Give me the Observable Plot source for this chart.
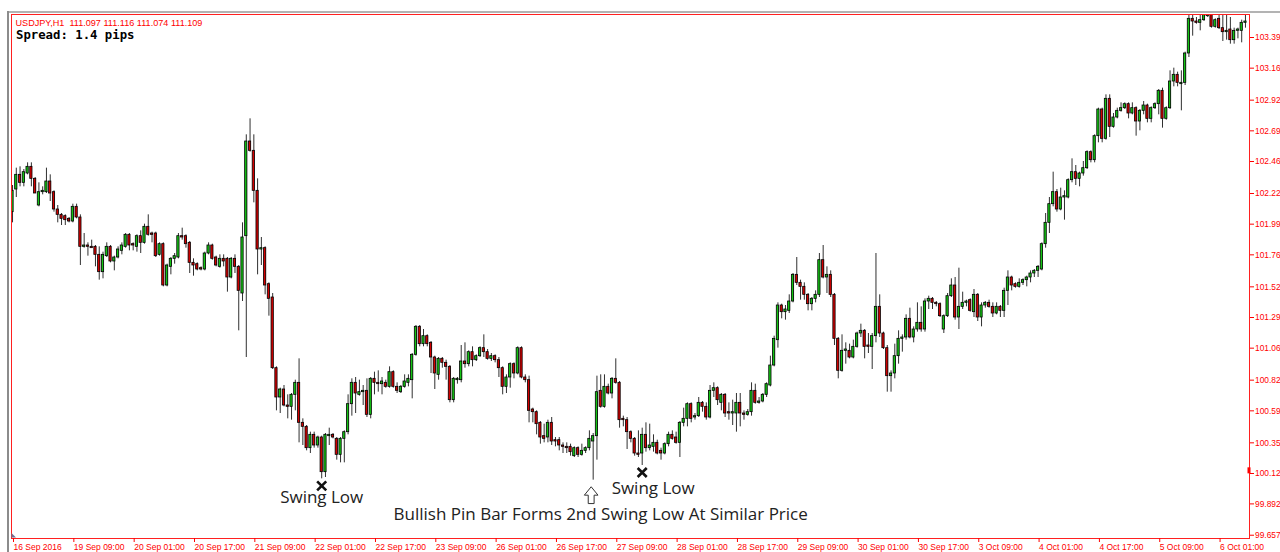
<!DOCTYPE html>
<html><head><meta charset="utf-8">
<script src="https://cdn.jsdelivr.net/npm/d3@7"></script>
<script src="https://cdn.jsdelivr.net/npm/@observablehq/plot@0.6"></script>
<style>
html,body{margin:0;padding:0;background:#fff;overflow:hidden}
#chart svg{display:block}
</style></head><body><div id="chart"></div>
<script>
// ---- data (USDJPY H1 candles) ----
const open=[
102.08,102.25,102.36,102.30,102.37,102.42,102.33,102.13,102.23,102.23,
102.31,102.23,102.10,102.06,102.05,102.03,102.01,102.12,102.04,101.82,
101.83,101.82,101.82,101.76,101.63,101.75,101.82,101.71,101.74,101.79,
101.82,101.91,101.84,101.82,101.90,101.85,101.97,101.92,101.92,101.76,
101.84,101.53,101.67,101.73,101.74,101.90,101.90,101.85,101.70,101.69,
101.66,101.65,101.77,101.83,101.74,101.67,101.73,101.73,101.59,101.73,
101.67,101.47,101.90,102.61,102.54,102.24,101.80,101.81,101.54,101.44,
100.91,100.69,100.75,100.63,100.62,100.71,100.80,100.50,100.47,100.31,
100.41,100.33,100.39,100.13,100.40,100.41,100.38,100.26,100.38,100.43,
100.64,100.80,100.71,100.73,100.74,100.56,100.83,100.80,100.79,100.80,
100.77,100.88,100.77,100.73,100.77,100.80,100.82,101.01,101.22,101.09,
101.15,101.10,100.99,100.86,100.98,100.95,100.92,100.67,100.82,100.82,
100.96,100.94,101.03,100.97,101.00,101.06,101.03,100.98,101.00,100.97,
100.91,100.77,100.84,100.94,100.87,101.06,100.84,100.82,100.60,100.58,
100.50,100.40,100.39,100.50,100.37,100.37,100.33,100.32,100.32,100.25,
100.31,100.26,100.29,100.31,100.36,100.40,100.74,100.62,100.77,100.72,
100.83,100.80,100.53,100.52,100.43,100.38,100.27,100.27,100.41,100.31,
100.32,100.35,100.29,100.27,100.34,100.41,100.39,100.35,100.50,100.53,
100.64,100.54,100.55,100.65,100.62,100.54,100.74,100.76,100.65,100.71,
100.58,100.57,100.57,100.65,100.57,100.56,100.58,100.74,100.65,100.66,
100.71,100.78,100.93,101.12,101.38,101.33,101.34,101.41,101.61,101.55,
101.52,101.46,101.39,101.43,101.46,101.72,101.59,101.61,101.46,101.13,
100.89,101.04,101.04,100.99,101.07,101.17,101.19,101.08,101.07,101.15,
101.37,101.17,101.06,100.85,100.87,101.00,101.13,101.14,101.28,101.14,
101.20,101.25,101.20,101.41,101.43,101.40,101.39,101.20,101.30,101.45,
101.53,101.29,101.37,101.40,101.42,101.33,101.46,101.29,101.38,101.40,
101.37,101.32,101.37,101.34,101.49,101.59,101.54,101.52,101.55,101.57,
101.59,101.62,101.64,101.65,101.84,102.00,102.14,102.23,102.10,102.19,
102.19,102.32,102.38,102.33,102.37,102.41,102.53,102.47,102.65,102.85,
102.63,102.93,102.72,102.79,102.84,102.86,102.89,102.82,102.86,102.76,
102.84,102.88,102.78,102.86,102.89,102.99,102.78,102.86,103.06,103.11,
103.04,103.05,103.27,103.53,103.51,103.50,103.52,103.55,103.56,103.47,
103.53,103.46,103.43,103.45,103.37,103.44,103.44,103.50];
const high=[
102.28,102.41,102.42,102.40,102.45,102.45,102.34,102.30,102.27,102.41,
102.36,102.24,102.13,102.07,102.06,102.04,102.14,102.14,102.06,101.92,
101.85,101.87,101.83,101.82,101.78,101.85,101.83,101.75,101.82,101.85,
101.92,101.92,101.85,101.91,101.94,101.99,102.06,101.93,101.93,101.85,
101.85,101.69,101.74,101.77,101.92,101.96,101.91,101.86,101.73,101.70,
101.67,101.78,101.85,101.84,101.75,101.76,101.76,101.74,101.74,101.76,
101.68,102.00,102.66,102.78,102.66,102.33,101.89,101.82,101.55,101.47,
100.92,100.76,100.78,100.71,100.72,100.82,100.98,100.53,100.48,100.43,
100.43,100.40,100.40,100.42,100.46,100.42,100.39,100.39,100.44,100.71,
100.83,100.84,100.82,100.78,100.83,100.84,100.88,100.89,100.84,100.82,
100.92,100.89,100.80,100.78,100.86,100.86,101.02,101.23,101.23,101.20,
101.16,101.11,101.00,100.99,100.99,100.97,100.93,100.84,100.84,101.08,
101.10,101.04,101.07,101.01,101.07,101.16,101.05,101.02,101.01,100.99,
100.92,100.86,100.95,100.95,101.07,101.07,100.86,100.85,100.61,100.59,
100.51,100.49,100.52,100.54,100.39,100.39,100.35,100.35,100.34,100.32,
100.32,100.34,100.32,100.44,100.42,100.85,100.86,100.86,100.79,100.84,
100.98,100.81,100.55,100.54,100.44,100.39,100.44,100.46,100.50,100.49,
100.41,100.37,100.31,100.35,100.43,100.44,100.43,100.51,100.61,100.65,
100.65,100.57,100.69,100.66,100.65,100.78,100.80,100.77,100.72,100.72,
100.65,100.67,100.72,100.72,100.59,100.60,100.80,100.79,100.69,100.72,
100.80,101.00,101.15,101.40,101.39,101.38,101.46,101.62,101.74,101.57,
101.55,101.47,101.44,101.49,101.77,101.83,101.67,101.64,101.47,101.14,
101.16,101.10,101.09,101.12,101.18,101.24,101.20,101.17,101.17,101.77,
101.46,101.18,101.08,100.89,101.09,101.19,101.16,101.31,101.36,101.22,
101.40,101.37,101.43,101.45,101.44,101.41,101.40,101.31,101.47,101.58,
101.59,101.66,101.48,101.42,101.43,101.50,101.47,101.40,101.41,101.42,
101.40,101.40,101.38,101.51,101.64,101.60,101.55,101.58,101.58,101.60,
101.64,101.65,101.68,101.85,102.07,102.19,102.38,102.25,102.26,102.24,
102.33,102.48,102.43,102.38,102.46,102.54,102.54,102.66,102.86,102.86,
102.96,102.96,102.82,102.86,102.90,102.90,102.90,102.90,102.87,102.85,
102.91,102.89,102.87,102.90,103.00,103.01,102.87,103.14,103.16,103.13,
103.14,103.28,103.56,103.56,103.54,103.56,103.57,103.57,103.57,103.53,
103.56,103.56,103.56,103.54,103.46,103.46,103.52,103.56];
const low=[
102.00,102.19,102.27,102.27,102.36,102.27,102.22,102.12,102.21,102.22,
102.16,102.08,102.00,101.98,101.98,102.00,102.00,102.03,101.68,101.81,
101.75,101.81,101.67,101.57,101.58,101.74,101.70,101.64,101.73,101.76,
101.81,101.79,101.79,101.78,101.77,101.84,101.90,101.85,101.74,101.75,
101.52,101.52,101.61,101.69,101.73,101.87,101.81,101.62,101.60,101.64,
101.64,101.64,101.76,101.72,101.67,101.66,101.67,101.48,101.58,101.62,
101.19,101.41,100.99,102.53,102.15,101.61,101.68,101.46,101.30,100.90,
100.59,100.57,100.62,100.53,100.52,100.59,100.35,100.33,100.29,100.27,
100.31,100.31,100.08,100.09,100.33,100.38,100.22,100.20,100.20,100.41,
100.55,100.57,100.70,100.63,100.54,100.53,100.71,100.73,100.71,100.76,
100.76,100.76,100.72,100.72,100.76,100.77,100.68,101.00,101.07,101.07,
101.07,100.87,100.75,100.82,100.91,100.82,100.65,100.65,100.79,100.80,
100.91,100.92,100.92,100.96,100.99,100.99,100.97,100.96,100.95,100.84,
100.71,100.72,100.76,100.83,100.86,100.83,100.80,100.50,100.50,100.41,
100.34,100.35,100.35,100.33,100.32,100.29,100.27,100.27,100.25,100.24,
100.24,100.25,100.27,100.29,100.07,100.22,100.61,100.61,100.71,100.68,
100.79,100.46,100.47,100.30,100.35,100.25,100.24,100.18,100.28,100.29,
100.28,100.26,100.22,100.26,100.32,100.37,100.34,100.24,100.47,100.47,
100.50,100.52,100.54,100.58,100.52,100.53,100.69,100.63,100.59,100.54,
100.52,100.48,100.43,100.47,100.52,100.55,100.55,100.64,100.64,100.65,
100.69,100.77,100.92,101.06,101.28,101.27,101.32,101.40,101.53,101.42,
101.42,101.34,101.34,101.40,101.44,101.58,101.47,101.44,101.08,100.83,
100.88,100.94,100.98,100.98,101.06,101.14,100.98,101.02,100.90,101.10,
101.14,101.05,100.73,100.73,100.83,100.94,101.03,101.12,101.13,101.10,
101.18,101.18,101.18,101.35,101.35,101.37,101.29,101.17,101.29,101.44,
101.27,101.20,101.35,101.37,101.33,101.29,101.26,101.22,101.36,101.36,
101.29,101.31,101.29,101.29,101.38,101.49,101.51,101.51,101.53,101.52,
101.55,101.59,101.59,101.64,101.81,101.92,102.12,102.08,102.09,102.02,
102.18,102.30,102.28,102.27,102.35,102.40,102.45,102.45,102.60,102.60,
102.62,102.64,102.71,102.78,102.83,102.85,102.78,102.81,102.65,102.69,
102.81,102.75,102.75,102.85,102.81,102.71,102.77,102.85,103.02,103.02,
102.84,103.03,103.24,103.40,103.49,103.44,103.51,103.54,103.46,103.46,
103.45,103.36,103.37,103.34,103.34,103.38,103.35,103.46];
const close=[
102.24,102.36,102.30,102.38,102.42,102.33,102.22,102.23,102.24,102.31,
102.22,102.10,102.06,102.03,102.02,102.01,102.12,102.04,101.82,101.83,
101.82,101.81,101.76,101.63,101.76,101.82,101.71,101.74,101.80,101.83,
101.91,101.83,101.83,101.90,101.85,101.97,101.91,101.91,101.75,101.84,
101.53,101.68,101.73,101.75,101.90,101.89,101.84,101.70,101.68,101.65,
101.65,101.77,101.83,101.73,101.68,101.73,101.71,101.59,101.73,101.67,
101.49,101.89,102.61,102.54,102.24,101.80,101.81,101.53,101.43,100.91,
100.69,100.75,100.63,100.62,100.71,100.80,100.50,100.47,100.31,100.41,
100.33,100.39,100.13,100.41,100.41,100.39,100.26,100.38,100.43,100.64,
100.80,100.72,100.73,100.74,100.56,100.83,100.80,100.79,100.81,100.77,
100.88,100.77,100.74,100.77,100.81,100.83,101.01,101.22,101.09,101.15,
101.09,100.99,100.87,100.98,100.95,100.92,100.67,100.83,100.83,100.96,
100.94,101.03,100.97,101.00,101.06,101.03,100.98,101.00,100.97,100.91,
100.77,100.84,100.94,100.87,101.06,100.84,100.82,100.59,100.58,100.49,
100.39,100.38,100.50,100.36,100.36,100.33,100.32,100.31,100.28,100.31,
100.26,100.29,100.31,100.38,100.40,100.73,100.62,100.77,100.72,100.83,
100.80,100.52,100.52,100.43,100.38,100.27,100.26,100.41,100.31,100.33,
100.35,100.27,100.27,100.34,100.41,100.38,100.35,100.50,100.53,100.64,
100.53,100.55,100.65,100.62,100.54,100.74,100.76,100.67,100.71,100.57,
100.57,100.58,100.65,100.57,100.56,100.58,100.74,100.65,100.66,100.71,
100.79,100.93,101.13,101.38,101.33,101.35,101.41,101.61,101.55,101.52,
101.46,101.39,101.43,101.46,101.72,101.59,101.61,101.46,101.13,100.89,
101.04,101.05,100.99,101.07,101.17,101.19,101.07,101.07,101.15,101.37,
101.17,101.06,100.85,100.87,101.00,101.13,101.14,101.28,101.14,101.20,
101.25,101.20,101.41,101.43,101.40,101.39,101.30,101.30,101.45,101.53,
101.29,101.37,101.40,101.41,101.34,101.46,101.29,101.38,101.40,101.37,
101.32,101.37,101.34,101.49,101.59,101.53,101.52,101.55,101.57,101.59,
101.62,101.64,101.67,101.84,102.00,102.14,102.23,102.10,102.19,102.20,
102.32,102.38,102.33,102.37,102.41,102.53,102.47,102.65,102.85,102.63,
102.93,102.72,102.79,102.84,102.86,102.89,102.82,102.86,102.76,102.84,
102.88,102.78,102.86,102.89,102.99,102.78,102.86,103.06,103.11,103.05,
103.05,103.27,103.53,103.51,103.50,103.52,103.56,103.56,103.47,103.52,
103.46,103.43,103.44,103.37,103.44,103.45,103.50,103.51];

const xTickBars=[0,16,32,48,64,80,96,112,128,144,160,176,192,208,224,240,256,272,288,304,320];
const xTickLabels=["16 Sep 2016","19 Sep 09:00","20 Sep 01:00","20 Sep 17:00","21 Sep 09:00","22 Sep 01:00","22 Sep 17:00","23 Sep 09:00","26 Sep 01:00","26 Sep 17:00","27 Sep 09:00","28 Sep 01:00","28 Sep 17:00","29 Sep 09:00","30 Sep 01:00","30 Sep 17:00","3 Oct 09:00","4 Oct 01:00","4 Oct 17:00","5 Oct 09:00","6 Oct 01:00"];
const yTickLabels=["103.39","103.16","102.92","102.69","102.46","102.22","101.99","101.76","101.52","101.29","101.06","100.82","100.59","100.35","100.12","99.892","99.657"];

const headerText="USDJPY,H1\u00a0 111.097 111.116 111.074 111.109";
const spreadText="Spread: 1.4 pips";
const swingLowBars=[82,167];
const swingLowLabel="Swing Low";
const pinBar=154;
const pinBarNote="Bullish Pin Bar Forms 2nd Swing Low At Similar Price";
const bidLevel=100.14;

// ---- build ----
const RED="#ff0000";
const BULL="#14c414", BEAR="#d20000";
const candles=close.map((c,i)=>({i,o:open[i],h:high[i],l:low[i],c}));
const yTickValues=yTickLabels.map(Number);
const yLab=new Map(yTickValues.map((v,k)=>[v,yTickLabels[k]]));
const xLab=new Map(xTickBars.map((v,k)=>[v,xTickLabels[k]]));
const AX="Liberation Sans, Arial, sans-serif";
const ANN="Open Sans, sans-serif";

// hollow up-arrow symbol (outline arrow under the pin bar)
const hollowArrow={draw(ctx,size){
  const r=Math.sqrt(size/Math.PI), k=r/8;
  ctx.moveTo(0,-8*k);
  ctx.lineTo(6.5*k,0);
  ctx.lineTo(2.8*k,0);
  ctx.lineTo(2.8*k,8*k);
  ctx.lineTo(-2.8*k,8*k);
  ctx.lineTo(-2.8*k,0);
  ctx.lineTo(-6.5*k,0);
  ctx.closePath();
}};

const chart=Plot.plot({
  width:1280,height:552,
  marginLeft:11,marginRight:31,marginTop:14,marginBottom:14,
  style:{background:"#fff",fontFamily:AX,overflow:"visible"},
  x:{type:"linear",domain:[-0.27,328.07],label:null},
  y:{type:"linear",domain:[99.6325,103.5625],label:null},
  color:{type:"identity"},
  marks:[
    Plot.ruleX(candles,{x:"i",y1:"l",y2:"h",stroke:"#303030",strokeWidth:1,clip:true}),
    Plot.rect(candles,{x1:d=>d.i-0.3,x2:d=>d.i+0.3,y1:"o",y2:"c",
      fill:d=>d.c>=d.o?BULL:BEAR,stroke:"#000",strokeWidth:0.8,clip:true}),
    Plot.frame({stroke:"#ff2020",strokeWidth:1}),
    Plot.axisY(yTickValues,{anchor:"right",tickFormat:d=>yLab.get(d),tickSize:4,tickPadding:1.5,
      color:RED,fontSize:8.4,fontFamily:AX,label:null}),
    Plot.axisX(xTickBars,{anchor:"bottom",tickFormat:d=>xLab.get(d),tickSize:4,tickPadding:1,
      textAnchor:"start",dx:1,color:RED,fontSize:8.5,fontFamily:AX,label:null}),
    Plot.text([headerText],{frameAnchor:"top-left",text:d=>d,dx:4,dy:5,lineAnchor:"top",textAnchor:"start",
      fill:RED,fontSize:9.1,fontFamily:AX}),
    Plot.text([spreadText],{frameAnchor:"top-left",text:d=>d,dx:4.5,dy:15.5,lineAnchor:"top",textAnchor:"start",
      fill:"#000",fontSize:12.3,fontWeight:"bold",fontFamily:"DejaVu Sans Mono, Liberation Mono, monospace"}),
    Plot.dot(swingLowBars,{x:d=>d,y:d=>low[d],symbol:"times",r:4.2,dy:7,
      stroke:"#111",strokeWidth:2.6,fill:"none"}),
    Plot.text([swingLowBars[0]],{x:d=>d,y:d=>low[d],text:()=>swingLowLabel,dy:24.5,lineAnchor:"bottom",
      fill:"#222",fontSize:17,fontFamily:ANN}),
    Plot.text([swingLowBars[1]],{x:d=>d,y:d=>low[d],text:()=>swingLowLabel,dx:11,dy:28.5,lineAnchor:"bottom",
      fill:"#222",fontSize:17,fontFamily:ANN}),
    Plot.dot([pinBar],{x:d=>d,y:d=>low[d],symbol:hollowArrow,r:8.4,dx:-2,dy:15,
      fill:"#fff",stroke:"#333",strokeWidth:1}),
    Plot.text([pinBar],{x:d=>d,y:d=>low[d],text:()=>pinBarNote,dx:7.5,dy:39.5,lineAnchor:"bottom",
      fill:"#222",fontSize:17,fontFamily:ANN})
  ]
});
document.getElementById("chart").appendChild(chart);

// window chrome (grey outer border, bid marker, corner marker)
const svg=d3.select(chart);
svg.append("line").attr("x1",7).attr("x2",1280).attr("y1",12).attr("y2",12)
  .attr("stroke","#9a9a9a").attr("stroke-width",1.6);
svg.append("line").attr("x1",8).attr("x2",8).attr("y1",11).attr("y2",552)
  .attr("stroke","#8c8c8c").attr("stroke-width",2);
const ys=chart.scale("y");
svg.append("rect").attr("x",1247.5).attr("y",ys.apply(bidLevel)-3).attr("width",3).attr("height",6).attr("fill",RED);
svg.append("path").attr("d","M11.5,533 L11.5,537.5 L16,537.5 Z").attr("fill","#707090");
</script></body></html>
